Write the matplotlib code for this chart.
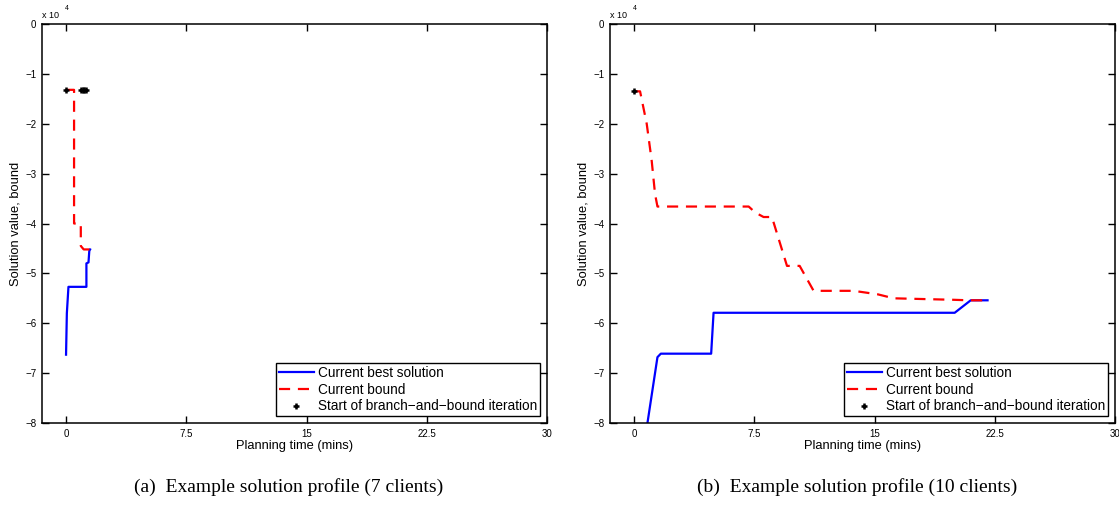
import matplotlib
matplotlib.use("Agg")
import matplotlib.pyplot as plt

plt.rcParams['font.family'] = ['Liberation Sans', 'DejaVu Sans']

# (a) 7 clients  -- times in minutes
best_t_a = [0.0, 0.05, 0.15, 1.27, 1.27, 1.4, 1.45, 1.5]
best_v_a = [-66300, -58000, -52700, -52700, -48000, -47800, -45500, -45200]
bound_t_a = [0.0, 0.5, 0.5, 0.92, 0.92, 1.1, 1.5]
bound_v_a = [-13200, -13200, -40000, -40000, -44500, -45200, -45200]
start_t_a = [0.0, 0.95, 1.05, 1.15, 1.25]
start_v_a = [-13200, -13200, -13200, -13200, -13200]

# (b) 10 clients
best_t_b = [0.6, 1.46, 1.67, 4.81, 4.96, 20.0, 21.0, 22.05]
best_v_b = [-85000, -66800, -66100, -66100, -57900, -57900, -55400, -55400]
bound_t_b = [0.0, 0.375, 0.79, 1.1, 1.31, 1.46, 7.15, 7.56, 8.08, 8.6, 9.54, 10.33,
             11.2, 13.7, 15.2, 16.2, 19.96, 20.9, 22.05]
bound_v_b = [-13500, -13500, -20000, -27400, -34100, -36600, -36600, -37800, -38700,
             -38700, -48500, -48500, -53500, -53500, -54200, -55000, -55300, -55400, -55400]
start_t_b = [0.0]
start_v_b = [-13500]

xticks = [0, 7.5, 15, 22.5, 30]
xtick_labels = ['0', '7.5', '15', '22.5', '30']
yticks = [0, -1, -2, -3, -4, -5, -6, -7, -8]
captions = ['(a)  Example solution profile (7 clients)',
            '(b)  Example solution profile (10 clients)']

W, H = 1119, 507
fig = plt.figure(figsize=(W / 100, H / 100), dpi=100)

panels = [
    (42, best_t_a, best_v_a, bound_t_a, bound_v_a, start_t_a, start_v_a, 289),
    (610, best_t_b, best_v_b, bound_t_b, bound_v_b, start_t_b, start_v_b, 857),
]

for i, (left, bt, bv, dt, dv, st, sv, cx) in enumerate(panels):
    ax = fig.add_axes([left / W, (H - 423) / H, 505 / W, 399 / H])
    ax.plot(bt, [v / 1e4 for v in bv], color='#0000ff', lw=1.6,
            label='Current best solution')
    ax.plot(dt, [v / 1e4 for v in dv], color='#ff0000', lw=1.6,
            dashes=(5, 3.5), label='Current bound')
    ax.plot(st, [v / 1e4 for v in sv], '+', color='black', ms=5, mew=1.8,
            label='Start of branch\u2212and\u2212bound iteration')

    ax.set_xlim(-1.5, 30)
    ax.set_ylim(-8, 0)
    ax.set_xticks(xticks)
    ax.set_xticklabels(xtick_labels)
    ax.set_yticks(yticks)
    ax.tick_params(direction='in', top=True, right=True, length=5, width=1,
                   labelsize=7, pad=4)
    for sp in ax.spines.values():
        sp.set_linewidth(1.1)
    ax.set_xlabel('Planning time (mins)', fontsize=9.3, labelpad=1)
    ax.set_ylabel('Solution value, bound', fontsize=9.3, labelpad=3)

    ax.text(0.0, 1.01, 'x 10', transform=ax.transAxes, fontsize=6.5,
            ha='left', va='bottom')
    ax.text(0.045, 1.03, '4', transform=ax.transAxes, fontsize=5,
            ha='left', va='bottom')

    leg = ax.legend(loc='lower right', fontsize=9.8, fancybox=False, framealpha=1,
                    edgecolor='black', handlelength=2.6, labelspacing=0.2,
                    borderpad=0.2, borderaxespad=0.5, handletextpad=0.3)
    leg.get_frame().set_linewidth(1.0)

    fig.text(cx / W, (H - 487) / H, captions[i], fontsize=14,
             family=['Liberation Serif', 'DejaVu Serif'], ha='center', va='center')

fig.savefig('out.png', dpi=100)
